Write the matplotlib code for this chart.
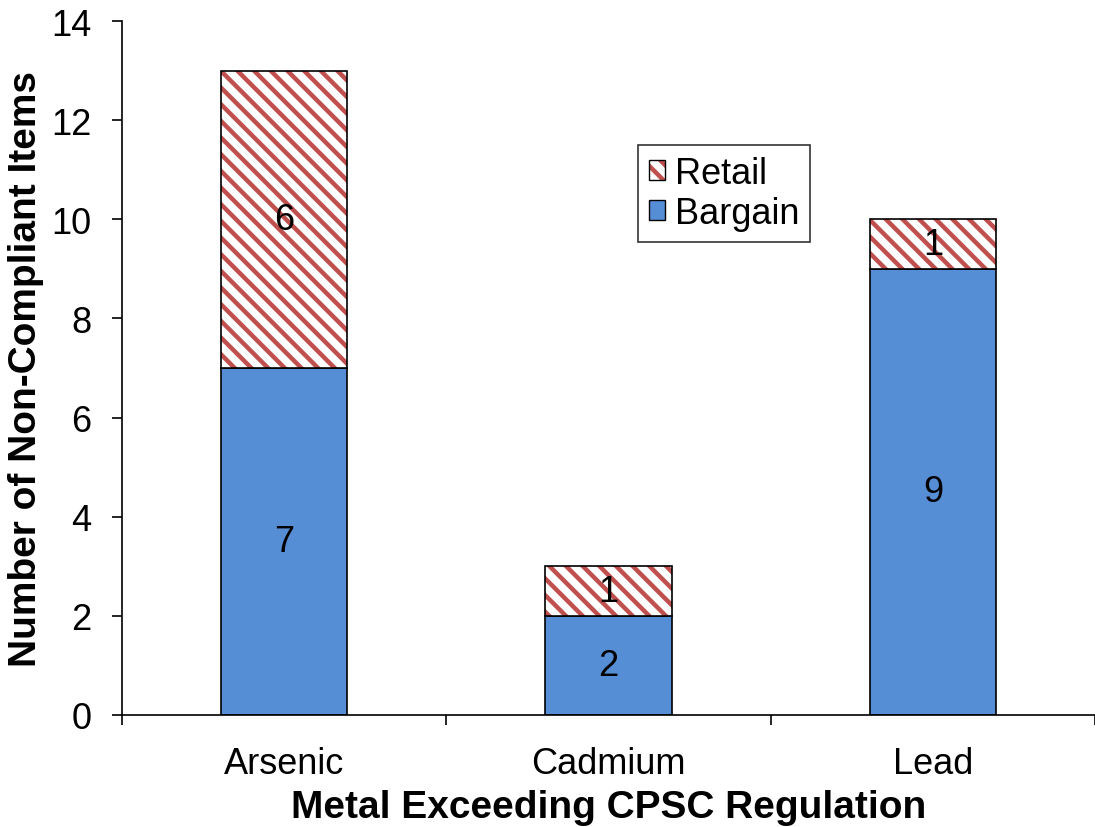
import matplotlib.pyplot as plt
import numpy as np
from matplotlib.patches import Patch
from matplotlib.legend_handler import HandlerTuple

metals = ['Arsenic', 'Cadmium', 'Lead']
bargain = [7, 2, 9]
retail = [6, 1, 1]

blue = '#558ED5'
red = '#C0504D'

plt.rcParams['font.family'] = ['Liberation Sans', 'DejaVu Sans']
plt.rcParams['hatch.linewidth'] = 3.2

fig = plt.figure(figsize=(10.95, 8.28), dpi=100)
ax = fig.add_axes([0.1114, 0.1353, 0.8886, 0.8381])

x = np.arange(len(metals))
w = 0.39
ax.bar(x, bargain, w, color=blue, edgecolor='black', linewidth=1.2, zorder=2)
# hatched part first, outline on top so the hatch lines stay red
ax.bar(x, retail, w, bottom=bargain, color='white', edgecolor=red, hatch='\\\\',
       linewidth=0, zorder=2)
ax.bar(x, retail, w, bottom=bargain, fill=False, edgecolor='black', linewidth=1.2, zorder=3)

for i in range(len(metals)):
    ax.text(x[i], bargain[i] / 2, str(bargain[i]), ha='center', va='center', fontsize=26, zorder=4)
    ax.text(x[i], bargain[i] + retail[i] / 2, str(retail[i]), ha='center', va='center',
            fontsize=26, zorder=4)

ax.set_xlim(-0.5, 2.5)
ax.set_ylim(0, 14)
ax.set_yticks(np.arange(0, 15, 2))
ax.tick_params(axis='y', labelsize=26, direction='out', length=7, width=1.2, pad=15)
ax.set_xticks(x)
ax.set_xticklabels(metals)
ax.set_xticks(np.arange(-0.5, 3, 1), minor=True)
ax.tick_params(axis='x', which='major', length=0, labelsize=26, pad=22)
ax.tick_params(axis='x', which='minor', direction='out', length=7, width=1.2)
for s in ['top', 'right']:
    ax.spines[s].set_visible(False)
for s in ['left', 'bottom']:
    ax.spines[s].set_linewidth(1.2)

ax.set_xlabel('Metal Exceeding CPSC Regulation', fontsize=28, fontweight='bold', labelpad=6)
ax.set_ylabel('Number of Non-Compliant Items', fontsize=28, fontweight='bold', labelpad=5)

# retail key: red hatch with a black outline drawn over it
retail_h = (Patch(facecolor='white', edgecolor=red, hatch='\\\\', linewidth=0),
            Patch(fill=False, edgecolor='black', linewidth=1))
bargain_h = Patch(facecolor=blue, edgecolor='black', linewidth=1)
leg = ax.legend([retail_h, bargain_h], ['Retail', 'Bargain'],
                handler_map={tuple: HandlerTuple(ndivide=1, pad=0)},
                loc='upper left', bbox_to_anchor=(0.530, 0.821),
                fontsize=26, frameon=True, fancybox=False, edgecolor='black',
                handlelength=0.47, handleheight=0.47, handletextpad=0.25, borderpad=0.3,
                labelspacing=0.14, borderaxespad=0)
leg.get_frame().set_linewidth(1.2)

fig.savefig('out.png', dpi=100)
